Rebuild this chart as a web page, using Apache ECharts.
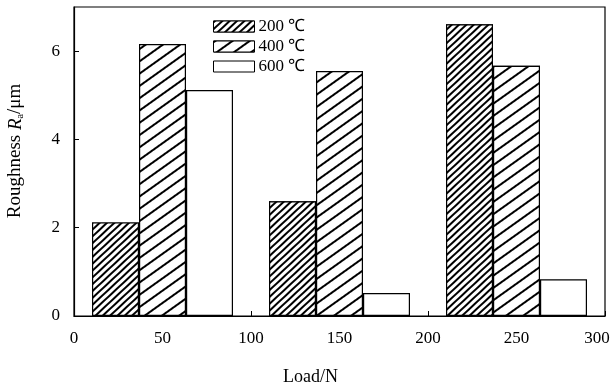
<!DOCTYPE html>
<html>
<head>
<meta charset="utf-8">
<script src="https://cdn.jsdelivr.net/npm/echarts@6/dist/echarts.min.js"></script>
<style>html,body{margin:0;padding:0;background:#fff}#c{width:612px;height:387px}</style>
</head>
<body>
<div id="c"></div>
<script>
const loads = [50, 150, 250];
const seriesNames = ['200 ℃', '400 ℃', '600 ℃'];
const ra200 = [2.12, 2.6, 6.61];
const ra400 = [6.16, 5.55, 5.67];
const ra600 = [5.12, 0.52, 0.83];
const xTicks = [0, 50, 100, 150, 200, 250, 300];
const yTicks = [0, 2, 4, 6];

const FONT = 'Liberation Serif';
const chart = echarts.init(document.getElementById('c'), null, {renderer: 'canvas'});

function pairs(vals) { return loads.map((x, i) => [x, vals[i]]); }

const decals = [
  {symbol: 'rect', symbolSize: 1, color: '#000', backgroundColor: '#fff', dashArrayX: [1, 0], dashArrayY: [1.05, 2.45], rotation: -0.75},
  {symbol: 'rect', symbolSize: 1, color: '#000', backgroundColor: '#fff', dashArrayX: [1, 0], dashArrayY: [1.05, 7.95], rotation: -0.62},
  null
];
const allVals = [ra200, ra400, ra600];
const lastX = xTicks[xTicks.length - 1];

chart.setOption({
  animation: false,
  backgroundColor: '#fff',
  grid: {left: 74, right: 7, top: 7, bottom: 71, show: true, borderColor: '#000', borderWidth: 1.2,
    backgroundColor: 'transparent', containLabel: false, outerBoundsMode: 'none'},
  legend: {
    orient: 'vertical', left: 213, top: 18, itemWidth: 41, itemHeight: 11, itemGap: 3, padding: 0,
    icon: 'rect',
    data: seriesNames,
    textStyle: {fontFamily: FONT, fontSize: 17, color: '#000', padding: [0, 0, 0, -1]},
    itemStyle: {borderColor: '#000', borderWidth: 1}
  },
  xAxis: {
    type: 'value', min: xTicks[0], max: lastX, interval: 50,
    name: 'Load/N', nameLocation: 'middle', nameGap: 52,
    nameTextStyle: {fontFamily: FONT, fontSize: 18, color: '#000', padding: [0, 58, 0, 0]},
    axisLine: {lineStyle: {color: '#000', width: 1.2}},
    axisTick: {inside: true, length: 5, lineStyle: {color: '#000'}},
    axisLabel: {fontFamily: FONT, fontSize: 17, color: '#000', margin: 14,
      formatter: v => (v === lastX ? '{m|' + v + '}' : String(v)),
      rich: {m: {fontFamily: FONT, fontSize: 17, color: '#000', padding: [0, 16, 0, 0]}}},
    splitLine: {show: false}
  },
  yAxis: {
    type: 'value', min: 0, max: 7, interval: 2,
    name: '{n|Roughness }{i|R}{s|a}{n|/μm}', nameLocation: 'middle', nameGap: 49, nameRotate: 90,
    nameTextStyle: {
      fontFamily: FONT, fontSize: 19, color: '#000', padding: [0, 0, 0, 21],
      rich: {
        n: {fontFamily: FONT, fontSize: 19, color: '#000'},
        i: {fontFamily: FONT, fontSize: 19, fontStyle: 'italic', color: '#000'},
        s: {fontFamily: FONT, fontSize: 10, color: '#000', verticalAlign: 'bottom'}
      }
    },
    axisLine: {lineStyle: {color: '#000', width: 1.2}},
    axisTick: {inside: true, length: 5, lineStyle: {color: '#000'}},
    axisLabel: {fontFamily: FONT, fontSize: 17, color: '#000', margin: 14, showMaxLabel: false,
      formatter: v => (yTicks.indexOf(v) >= 0 ? String(v) : '')},
    splitLine: {show: false}
  },
  series: seriesNames.map((name, k) => ({
    name, type: 'bar', barWidth: 47, barGap: '0%',
    data: pairs(allVals[k]),
    itemStyle: Object.assign({color: '#fff', borderColor: '#000', borderWidth: 1.2}, decals[k] ? {decal: decals[k]} : {})
  }))
});
</script>
</body>
</html>
